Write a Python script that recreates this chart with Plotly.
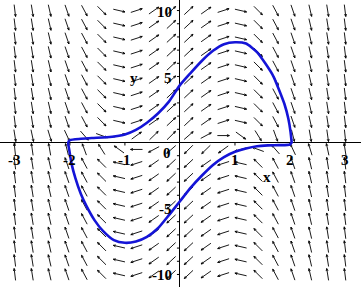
import numpy as np
import plotly.graph_objects as go

# ---- data ----
# direction-field grid
grid_x = [-3.0, -2.684, -2.368, -2.053, -1.737, -1.421, -1.105, -0.789, -0.474, -0.158,
          0.158, 0.474, 0.789, 1.105, 1.421, 1.737, 2.053, 2.368, 2.684, 3.0]
grid_y = [-10.0, -8.947, -7.895, -6.842, -5.789, -4.737, -3.684, -2.632, -1.579, -0.526,
          0.526, 1.579, 2.632, 3.684, 4.737, 5.789, 6.842, 7.895, 8.947, 10.0]
# on-screen arrow angle (deg) per column for y>0 rows (y<0 rows point the opposite way)
angle_outer = [-83, -81, -77, -71, -62, -45, -13, 18, 35, 43,
               43, 35, 18, -13, -45, -62, -71, -77, -81, -83]
# angle for the row just above the x-axis (y = 0.526); row below mirrors it
angle_near = [-81, -78, -73, -65, -49, -20, 16, 36, 44, 45,
              41, 28, 0, -36, -58, -70, -76, -80, -82, -84]

# solution curve (limit cycle)
upper_x = [-2.03, -2.0, -1.8, -1.6, -1.4, -1.2, -1.0, -0.8, -0.6, -0.4, -0.2, 0.0, 0.2, 0.4,
           0.6, 0.8, 1.0, 1.2, 1.4, 1.55, 1.7, 1.8, 1.9, 1.97, 2.01, 2.03]
upper_y = [0.0, 0.18, 0.28, 0.34, 0.38, 0.45, 0.6, 0.95, 1.5, 2.2, 3.1, 4.35, 5.3, 6.2,
           6.95, 7.45, 7.6, 7.5, 6.85, 6.0, 5.0, 4.0, 2.9, 1.8, 0.8, 0.0]
lower_x = [2.03, 2.0, 1.8, 1.6, 1.4, 1.2, 1.0, 0.8, 0.6, 0.4, 0.2, 0.0, -0.2, -0.4, -0.6,
           -0.8, -1.0, -1.2, -1.4, -1.55, -1.7, -1.8, -1.9, -1.97, -2.01, -2.03]
lower_y = [0.0, -0.15, -0.2, -0.22, -0.28, -0.45, -0.7, -1.1, -1.7, -2.5, -3.4, -4.45, -5.5,
           -6.5, -7.15, -7.5, -7.6, -7.4, -6.7, -5.9, -4.8, -3.9, -2.7, -1.6, -0.6, 0.0]

x_ticks = [-3, -2, -1, 1, 2, 3]
x_tick_labels = ["-3", "-2", "-1", "1", "2", "3"]
y_ticks = [-10, -5, 5, 10]
y_tick_labels = ["-10", "-5", "5", "10"]

# ---- layout geometry ----
W, H = 361, 287
XR = [-3.27, 3.29]
YR = [-10.95, 10.8]
sx = W / (XR[1] - XR[0])   # px per x unit
sy = H / (YR[1] - YR[0])   # px per y unit

L = 12.0     # arrow length px
HL = 2.6     # head barb length px
HA = np.radians(22)

ax_, ay_ = [], []
for j, yv in enumerate(grid_y):
    for i, xv in enumerate(grid_x):
        if abs(yv) < 1.0:
            if yv > 0:
                a = np.radians(angle_near[i]); sgn = 1
            else:
                a = np.radians(angle_near[len(grid_x) - 1 - i]); sgn = -1
        else:
            a = np.radians(angle_outer[i]); sgn = 1 if yv > 0 else -1
        ux, uy = sgn * np.cos(a), sgn * np.sin(a)   # screen dir (y up)
        x0 = xv - ux * L / 2 / sx; y0 = yv - uy * L / 2 / sy
        x1 = xv + ux * L / 2 / sx; y1 = yv + uy * L / 2 / sy
        ax_ += [x0, x1, None]; ay_ += [y0, y1, None]
        for s in (1, -1):
            bx = -(ux * np.cos(HA) - s * uy * np.sin(HA))
            by = -(uy * np.cos(HA) + s * ux * np.sin(HA))
            ax_ += [x1, x1 + bx * HL / sx, None]
            ay_ += [y1, y1 + by * HL / sy, None]

fig = go.Figure()
fig.add_trace(go.Scatter(x=ax_, y=ay_, mode="lines", line=dict(color="black", width=0.9),
                         hoverinfo="skip", showlegend=False))

# axis tick marks
tx, ty = [], []
for v in range(-10, 11):
    if v == 0:
        continue
    tx += [0, -3 / sx, None]; ty += [v, v, None]
for v in [-3, -2, -1, 1, 2, 3]:
    tx += [v, v, None]; ty += [0, -3 / sy, None]
fig.add_trace(go.Scatter(x=tx, y=ty, mode="lines", line=dict(color="black", width=1),
                         hoverinfo="skip", showlegend=False))

fig.add_trace(go.Scatter(x=upper_x + lower_x, y=upper_y + lower_y, mode="lines",
                         line=dict(color="rgb(20,20,215)", width=2.6, shape="spline", smoothing=0.6),
                         hoverinfo="skip", showlegend=False))

font = dict(family="Liberation Serif", size=15, color="black")
ann = []
for v, t in zip(x_ticks, x_tick_labels):
    ann.append(dict(x=v, y=0, text="<b>%s</b>" % t, showarrow=False, xanchor="center",
                    yanchor="middle", yshift=-17, font=font))
ann.append(dict(x=0, y=0, text="<b>0</b>", showarrow=False, xanchor="center",
                yanchor="middle", xshift=-13, yshift=-10, font=font))
for v, t in zip(y_ticks, y_tick_labels):
    ann.append(dict(x=0, y=v, text="<b>%s</b>" % t, showarrow=False, xanchor="right",
                    yanchor="middle", xshift=-6, yshift=-1, font=font))
ann.append(dict(x=(267 - 180) / sx, y=0, text="<b>x</b>", showarrow=False, xanchor="center",
                yanchor="middle", yshift=-34, font=font))
ann.append(dict(x=(134 - 180) / sx, y=5, text="<b>y</b>", showarrow=False, xanchor="center",
                yanchor="middle", yshift=-1, font=font))

fig.update_layout(
    width=W, height=H, margin=dict(l=0, r=0, t=0, b=0),
    paper_bgcolor="white", plot_bgcolor="white",
    xaxis=dict(range=XR, showgrid=False, showticklabels=False, ticks="",
               zeroline=True, zerolinecolor="black", zerolinewidth=1),
    yaxis=dict(range=YR, showgrid=False, showticklabels=False, ticks="",
               zeroline=True, zerolinecolor="black", zerolinewidth=1),
    annotations=ann,
)
fig.write_html("out.html")
